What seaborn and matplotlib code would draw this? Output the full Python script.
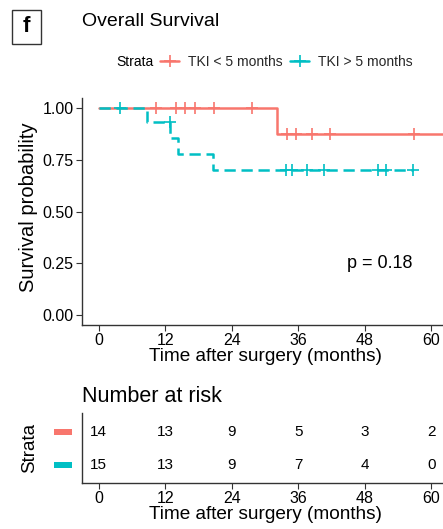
import matplotlib
matplotlib.use("Agg")
import matplotlib.pyplot as plt
import seaborn as sns
import pandas as pd
import numpy as np
from matplotlib.lines import Line2D
from matplotlib.patches import Rectangle

sns.set_theme(style="white")
plt.rcParams['font.family'] = ['Liberation Sans', 'DejaVu Sans']

# ---- data ----
groups = ["TKI < 5 months", "TKI > 5 months"]
colors = ["#F8766D", "#00BFC4"]

# Kaplan-Meier step curves (time, survival)
red_t = [0, 32.1, 66.0]
red_s = [1.0, 0.875, 0.875]
teal_t = [0, 8.7, 12.9, 14.4, 20.6, 56.7]
teal_s = [1.0, 0.933, 0.856, 0.778, 0.700, 0.700]

# censoring times
red_cens_t = [10.4, 13.9, 15.6, 17.4, 20.8, 27.6, 33.9, 35.6, 38.5, 41.8, 56.9]
red_cens_s = [1.0, 1.0, 1.0, 1.0, 1.0, 1.0, 0.875, 0.875, 0.875, 0.875, 0.875]
teal_cens_t = [3.9, 12.8, 33.8, 34.8, 37.6, 40.6, 50.3, 51.8, 56.7]
teal_cens_s = [1.0, 0.933, 0.700, 0.700, 0.700, 0.700, 0.700, 0.700, 0.700]

risk_times = [0, 12, 24, 36, 48, 60]
risk_red = [14, 13, 9, 5, 3, 2]
risk_teal = [15, 13, 9, 7, 4, 0]

x_ticks = [0, 12, 24, 36, 48, 60]
y_ticks = [0.00, 0.25, 0.50, 0.75, 1.00]
p_text = "p = 0.18"

# ---- figure ----
W, H = 443, 529
fig = plt.figure(figsize=(W / 100, H / 100), dpi=100)

def fx(px):
    return px / W

def fy(py):
    return 1 - py / H

TICK_FS = 11.5
XLAB_FS = 13.7
YLAB_FS = 14.5

xlim = (-3, 63)
left = fx(82)
right = fx(448)
ax = fig.add_axes([left, fy(325), right - left, fy(98) - fy(325)])

df_red = pd.DataFrame({"t": red_t, "s": red_s})
df_teal = pd.DataFrame({"t": teal_t, "s": teal_s})
sns.lineplot(data=df_red, x="t", y="s", ax=ax, color=colors[0], lw=1.8,
             drawstyle="steps-post", estimator=None, sort=False)
sns.lineplot(data=df_teal, x="t", y="s", ax=ax, color=colors[1], lw=1.8,
             drawstyle="steps-post", estimator=None, sort=False,
             linestyle=(0, (4.5, 2.3)))
sns.scatterplot(x=red_cens_t, y=red_cens_s, ax=ax, marker="+", s=70,
                color=colors[0], linewidth=1.2, zorder=3)
sns.scatterplot(x=teal_cens_t, y=teal_cens_s, ax=ax, marker="+", s=70,
                color=colors[1], linewidth=1.2, zorder=3)

ax.set_xlim(*xlim)
ax.set_ylim(-0.05, 1.05)
ax.set_xticks(x_ticks)
ax.set_yticks(y_ticks)
ax.set_yticklabels([f"{v:.2f}" for v in y_ticks])
ax.set_xlabel("Time after surgery (months)", fontsize=XLAB_FS, labelpad=0, color="black")
ax.set_ylabel("Survival probability", fontsize=YLAB_FS, labelpad=3, color="black")
ax.yaxis.label.set_y(0.52)
ax.tick_params(axis="both", labelsize=TICK_FS, colors="black", length=4, width=0.8,
               direction="out", bottom=True, left=True, pad=2)
ax.tick_params(axis="both", color="#333333")
for sp in ["top", "right"]:
    ax.spines[sp].set_visible(False)
for sp in ["left", "bottom"]:
    ax.spines[sp].set_color("#333333")
    ax.spines[sp].set_linewidth(1.0)
ax.text(50.7, 0.25, p_text, fontsize=13, ha="center", va="center", color="black")

# ---- title, panel letter, legend ----
fig.patches.append(Rectangle((fx(12), fy(44)), fx(29), fy(10) - fy(44),
                             transform=fig.transFigure, fill=False,
                             edgecolor="#333333", lw=1.0))
fig.text(fx(26.5), fy(27), "f", fontsize=16, fontweight="bold", ha="center",
         va="center", color="black")
fig.text(fx(82), fy(22), "Overall Survival", fontsize=14, ha="left",
         va="center", color="black")

fig.text(fx(116), fy(62), "Strata", fontsize=10, ha="left", va="center",
         color="black")
handles = [Line2D([0], [0], color=colors[i], lw=1.8, marker="+", markersize=9,
                  markeredgewidth=1.2) for i in range(2)]
fig.legend(handles, groups, loc="center left", bbox_to_anchor=(fx(160), fy(62)),
           ncol=2, frameon=False, fontsize=10, handlelength=1.4,
           handletextpad=0.6, columnspacing=0.55, borderpad=0, borderaxespad=0)

# ---- risk table ----
ax2 = fig.add_axes([left, fy(483), right - left, fy(413) - fy(483)])
ax2.set_xlim(*xlim)
ax2.set_ylim(0.45, 2.58)
rows = [(2, risk_red), (1, risk_teal)]
for yrow, vals in rows:
    for t, v in zip(risk_times, vals):
        ax2.text(t, yrow, str(v), ha="center", va="center", fontsize=11,
                 color="black")
ax2.set_xticks(x_ticks)
ax2.set_yticks([])
ax2.set_xlabel("Time after surgery (months)", fontsize=XLAB_FS, labelpad=0, color="black")
ax2.tick_params(axis="x", labelsize=TICK_FS, colors="black", length=4, width=0.8,
                direction="out", bottom=True, pad=2)
ax2.tick_params(axis="x", color="#333333")
for sp in ["top", "right"]:
    ax2.spines[sp].set_visible(False)
for sp in ["left", "bottom"]:
    ax2.spines[sp].set_color("#333333")
    ax2.spines[sp].set_linewidth(1.0)
fig.text(fx(82), fy(397), "Number at risk", fontsize=15.5, ha="left",
         va="center", color="black")
for py, c in [(432, colors[0]), (465, colors[1])]:
    fig.patches.append(Rectangle((fx(54), fy(py + 3)), fx(18), fy(py - 3) - fy(py + 3),
                                 transform=fig.transFigure, color=c, lw=0))
fig.text(fx(30), fy(448), "Strata", fontsize=13.5, rotation=90, ha="center",
         va="center", color="black")

fig.savefig("out.png", dpi=100)
